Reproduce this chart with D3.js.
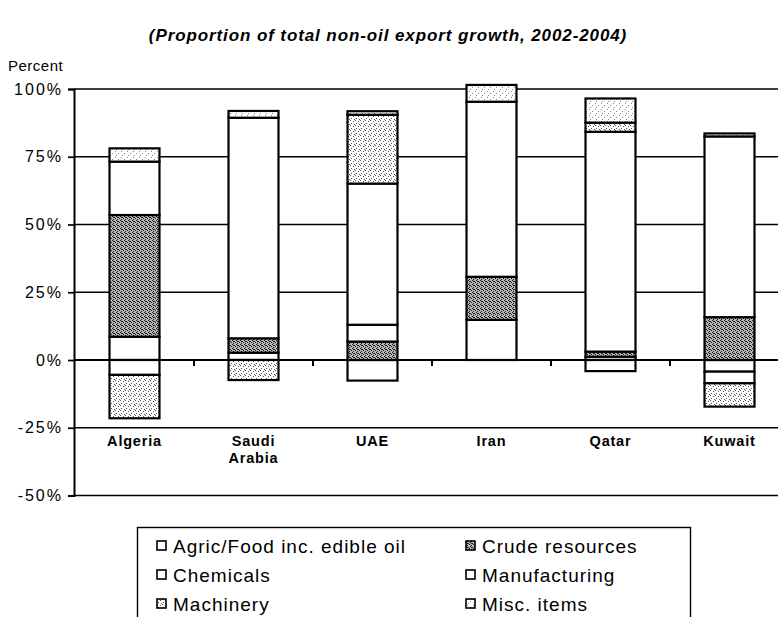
<!DOCTYPE html>
<html>
<head>
<meta charset="utf-8">
<script src="https://cdn.jsdelivr.net/npm/d3@7"></script>
<style>
    body { margin: 0; background: #fff; }
    text { font-family: "Liberation Sans", Arial, sans-serif; }
</style>
</head>
<body>
<div id="svg"></div>
<script>
//DATA (percent of total non-oil export growth)
let countries = ["Algeria", "Saudi Arabia", "UAE", "Iran", "Qatar", "Kuwait"]
let agric = [8.6, 2.7, -7.6, 14.8, 1.2, -4.3]
let crude = [44.9, 5.3, 6.8, 15.9, 1.9, 15.8]
let chemicals = [-5.5, 0, 6.2, 0, -4.1, -4.3]
let manufacturing = [19.7, 81.4, 52.1, 64.6, 81.1, 66.7]
let machinery = [-16.0, -7.4, 25.4, 0, 3.4, -8.6]
let misc = [4.9, 2.5, 1.3, 6.2, 8.9, 1.1]
let seriesNames = ["Agric/Food inc. edible oil", "Crude resources", "Chemicals", "Manufacturing", "Machinery", "Misc. items"]
let yTicks = [-50, -25, 0, 25, 50, 75, 100]

let width = 778,
    height = 617,
    svg = d3.select("#svg").append("svg")
        .attr("width", width)
        .attr("height", height)

//TABLE FOR THE STACK
let keys = ["agric", "crude", "chemicals", "manufacturing", "machinery", "misc"]
let cols = [agric, crude, chemicals, manufacturing, machinery, misc]
let table = countries.map((c, i) => {
    let row = {country: c}
    keys.forEach((k, j) => row[k] = cols[j][i])
    return row
})
let fills = {agric: "white", crude: "dense", chemicals: "white", manufacturing: "white", machinery: "medium", misc: "light"}

//PATTERNS (fixed dot tiles, look of the scanned screens)
let defs = svg.append("defs")
function makePattern(id, size, bg, dotColor, dots){
    let p = defs.append("pattern")
        .attr("id", id)
        .attr("patternUnits", "userSpaceOnUse")
        .attr("width", size)
        .attr("height", size)
    p.append("rect").attr("width", size).attr("height", size).attr("fill", bg)
    dots.forEach(d => p.append("rect")
        .attr("x", d[0]).attr("y", d[1]).attr("width", 1).attr("height", 1)
        .attr("fill", dotColor))
}
makePattern("dense", 4, "#b5b5b5", "#1a1a1a", [[0,0],[2,1],[1,3],[3,2],[1,1]])
makePattern("medium", 5, "#ffffff", "#555", [[0,0],[3,1],[1,3],[4,4]])
makePattern("light", 6, "#ffffff", "#888", [[1,1],[4,3],[2,5]])
function fillOf(k){ return fills[k] === "white" ? "#fff" : "url(#" + fills[k] + ")" }

//SCALES
let x = d3.scaleBand()
    .domain(countries)
    .range([75, 789])
    .paddingInner(0.58)
    .paddingOuter(0.29)
let y = d3.scaleLinear()
    .domain([-50, 100])
    .range([495.5, 89])

//TITLE
svg.append("text")
    .attr("x", 388)
    .attr("y", 41)
    .attr("text-anchor", "middle")
    .attr("font-size", 17)
    .attr("font-weight", "bold")
    .attr("font-style", "italic")
    .attr("letter-spacing", 0.9)
    .text("(Proportion of total non-oil export growth, 2002-2004)")
svg.append("text")
    .attr("x", 8)
    .attr("y", 71)
    .attr("font-size", 15)
    .attr("letter-spacing", 0.5)
    .text("Percent")

//GRID
svg.append("g")
    .selectAll("line")
    .data(yTicks)
    .enter().append("line")
    .attr("x1", 74)
    .attr("x2", width)
    .attr("y1", d => y(d))
    .attr("y2", d => y(d))
    .attr("stroke", "#000")
    .attr("stroke-width", 1.7)

//Y AXIS
let yAxis = svg.append("g")
    .attr("transform", "translate(74,0)")
    .call(d3.axisLeft(y).tickValues(yTicks).tickSize(6).tickPadding(5).tickFormat(d => d + "%"))
yAxis.select(".domain").attr("stroke", "#000").attr("stroke-width", 2)
yAxis.selectAll(".tick line").attr("stroke", "#000").attr("stroke-width", 1.7)
yAxis.selectAll("text")
    .attr("font-size", 16)
    .attr("letter-spacing", 2)
    .attr("font-family", "\"Liberation Sans\", Arial, sans-serif")
    .attr("fill", "#000")

//BARS
let stack = d3.stack()
    .keys(keys)
    .offset(d3.stackOffsetDiverging)
let layers = stack(table)

svg.append("g")
    .selectAll("g")
    .data(layers)
    .enter().append("g")
    .attr("fill", d => fillOf(d.key))
    .selectAll("rect")
    .data(d => d.filter(s => s[1] - s[0] !== 0))
    .enter().append("rect")
    .attr("x", d => x(d.data.country))
    .attr("width", x.bandwidth())
    .attr("y", d => y(d[1]))
    .attr("height", d => y(d[0]) - y(d[1]))
    .attr("stroke", "#000")
    .attr("stroke-width", 2.2)

//ZERO LINE + CATEGORY TICKS
svg.append("line")
    .attr("x1", 74).attr("x2", width)
    .attr("y1", y(0)).attr("y2", y(0))
    .attr("stroke", "#000").attr("stroke-width", 2)
svg.append("g")
    .selectAll("line")
    .data(countries.slice(1))
    .enter().append("line")
    .attr("x1", d => x(d) - x.step() * x.paddingInner() / 2)
    .attr("x2", d => x(d) - x.step() * x.paddingInner() / 2)
    .attr("y1", y(0))
    .attr("y2", y(0) + 6)
    .attr("stroke", "#000")
    .attr("stroke-width", 2)

//CATEGORY LABELS (below the -25% line)
svg.append("g")
    .selectAll("text")
    .data(countries)
    .enter().append("text")
    .attr("x", d => x(d) + x.bandwidth() / 2)
    .attr("y", 446)
    .attr("text-anchor", "middle")
    .attr("font-size", 14.5)
    .attr("font-weight", "bold")
    .attr("letter-spacing", 0.8)
    .each(function(d){
        let parts = d.split(" ")
        d3.select(this).selectAll("tspan")
            .data(parts)
            .enter().append("tspan")
            .attr("x", x(d) + x.bandwidth() / 2)
            .attr("dy", (p, i) => i === 0 ? 0 : 17)
            .text(p => p)
    })

//LEGEND
let legend = svg.append("g")
legend.append("rect")
    .attr("x", 137.5)
    .attr("y", 527.5)
    .attr("width", 553)
    .attr("height", 100)
    .attr("fill", "none")
    .attr("stroke", "#000")
    .attr("stroke-width", 1.4)
let items = legend.selectAll("g.item")
    .data(keys)
    .enter().append("g")
    .attr("class", "item")
    .attr("transform", (k, i) => "translate(" + (i % 2 === 0 ? 157 : 466) + "," + (546 + Math.floor(i / 2) * 29) + ")")
items.append("rect")
    .attr("x", 0)
    .attr("y", -5)
    .attr("width", 9)
    .attr("height", 9)
    .attr("fill", k => fillOf(k))
    .attr("stroke", "#000")
    .attr("stroke-width", 1.6)
items.append("text")
    .attr("x", 16)
    .attr("y", 6.5)
    .attr("font-size", 19)
    .attr("letter-spacing", 1)
    .text((k, i) => seriesNames[i])
</script>
</body>
</html>
